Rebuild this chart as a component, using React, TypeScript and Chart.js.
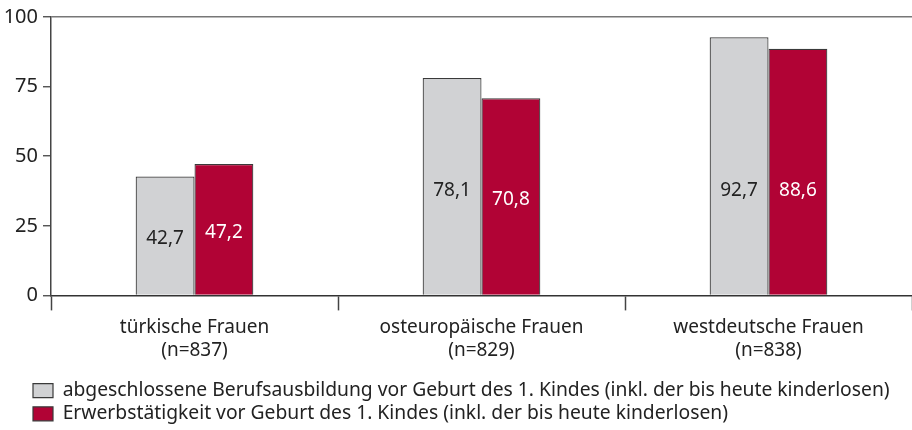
import React, { useEffect, useRef } from "react";
import { Chart, registerables } from "chart.js";
Chart.register(...registerables);

const categories: string[][] = [
  ["türkische Frauen", "(n=837)"],
  ["osteuropäische Frauen", "(n=829)"],
  ["westdeutsche Frauen", "(n=838)"],
];
const ausbildung = [42.7, 78.1, 92.7];
const erwerb = [47.2, 70.8, 88.6];
const seriesNames = [
  "abgeschlossene Berufsausbildung vor Geburt des 1. Kindes (inkl. der bis heute kinderlosen)",
  "Erwerbstätigkeit vor Geburt des 1. Kindes (inkl. der bis heute kinderlosen)",
];
const yTicks = [0, 25, 50, 75, 100];

const FONT = "'Noto Sans', sans-serif";

const valueLabels = {
  id: "valueLabels",
  afterDatasetsDraw(chart: any) {
    const { ctx } = chart;
    const y = chart.scales.y;
    ctx.save();
    ctx.font = `19px ${FONT}`;
    ctx.textAlign = "center";
    ctx.textBaseline = "middle";
    chart.data.datasets.forEach((ds: any, di: number) => {
      const meta = chart.getDatasetMeta(di);
      meta.data.forEach((bar: any, i: number) => {
        const v = ds.data[i];
        const pos = y.getPixelForValue(Math.min(v / 2, 38.7)) + 3;
        ctx.fillStyle = di === 0 ? "#222" : "#fff";
        ctx.fillText(String(v).replace(".", ","), bar.x, pos);
      });
    });
    ctx.restore();
  },
};

const legendShift = {
  id: "legendShift",
  afterLayout(chart: any) {
    if (chart.legend) {
      chart.legend.left += 29;
      chart.legend.top += 3.5;
    }
  },
};

export default function App() {
  const ref = useRef<HTMLCanvasElement>(null);
  useEffect(() => {
    const chart = new Chart(ref.current!, {
      type: "bar",
      data: {
        labels: categories,
        datasets: [
          {
            label: seriesNames[0],
            data: ausbildung,
            backgroundColor: "#d1d2d4",
            borderColor: "#3a3a3a",
            borderWidth: 1.2,
            borderSkipped: "bottom",
          },
          {
            label: seriesNames[1],
            data: erwerb,
            backgroundColor: "#b10335",
            borderColor: "#3a3a3a",
            borderWidth: 1.2,
            borderSkipped: "bottom",
          },
        ],
      },
      options: {
        responsive: false,
        animation: false,
        layout: { padding: { top: 16, right: 0, left: 0, bottom: 0 } },
        datasets: { bar: { barPercentage: 1, categoryPercentage: 0.41 } },
        plugins: {
          tooltip: { enabled: false },
          legend: {
            position: "bottom",
            align: "start",
            labels: {
              boxWidth: 20,
              boxHeight: 14,
              padding: 4,
              color: "#222",
              font: { family: FONT, size: 19.3 },
            },
          },
        },
        scales: {
          x: {
            afterFit(scale: any) {
              scale.height = 78;
            },
            grid: {
              offset: true,
              drawOnChartArea: false,
              drawTicks: true,
              tickLength: 15,
              tickColor: "#444",
              tickWidth: 1.5,
            },
            border: { display: true, color: "#333", width: 1.5 },
            ticks: {
              color: "#222",
              font: { family: FONT, size: 19, lineHeight: 1.2 },
              padding: 6,
            },
          },
          y: {
            min: 0,
            max: 100,
            afterFit(scale: any) {
              scale.width = 51;
            },
            afterBuildTicks(scale: any) {
              scale.ticks = yTicks.map((v) => ({ value: v }));
            },
            grid: {
              color: (c: any) => (c.tick && c.tick.value === 100 ? "#777" : "rgba(0,0,0,0)"),
              lineWidth: 1.5,
              drawTicks: true,
              tickLength: 8,
              tickColor: "#444",
              tickWidth: 1.3,
            },
            border: { display: true, color: "#444", width: 1.5 },
            ticks: {
              color: "#222",
              font: { family: FONT, size: 20 },
              padding: 5,
            },
          },
        },
      },
      plugins: [valueLabels, legendShift],
    } as any);
    return () => chart.destroy();
  }, []);
  return (
    <div style={{ position: "absolute", left: 0, top: 0, width: 912, height: 430, background: "#fff" }}>
      <canvas ref={ref} width={912} height={430} />
    </div>
  );
}
